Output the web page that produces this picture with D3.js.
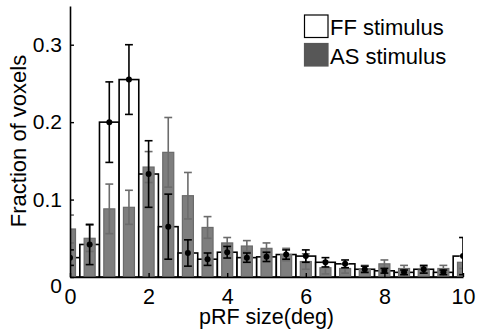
<!DOCTYPE html>
<html>
<head>
<meta charset="utf-8">
<script src="https://cdn.jsdelivr.net/npm/d3@7/dist/d3.min.js"></script>
<style>
  html, body { margin: 0; padding: 0; background: #fff; }
  svg { display: block; font-family: "Liberation Sans", Arial, Helvetica, sans-serif; }
</style>
</head>
<body>
<svg id="chart" width="478" height="329"></svg>
<script>
// pRF size bin centres (deg)
const binCenters = [0, 0.5, 1, 1.5, 2, 2.5, 3, 3.5, 4, 4.5, 5, 5.5, 6, 6.5, 7, 7.5, 8, 8.5, 9, 9.5, 10];

// FF stimulus: fraction of voxels per bin and error
const ffMean = [0.025, 0.042, 0.200, 0.255, 0.133, 0.065, 0.031, 0.023, 0.032, 0.025, 0.026,
                0.029, 0.027, 0.019, 0.017, 0.010, 0.008, 0.006, 0.010, 0.006, 0.027];
const ffErr  = [0.010, 0.026, 0.052, 0.045, 0.043, 0.042, 0.017, 0.008, 0.0075, 0.006, 0.006,
                0.006, 0.008, 0.006, 0.005, 0.004, 0.003, 0.003, 0.005, 0.003, 0.024];

// AS stimulus: fraction of voxels per bin and error
const asMean = [0.062, 0.050, 0.088, 0.090, 0.142, 0.161, 0.105, 0.064, 0.044, 0.040, 0.037,
                0.029, 0.020, 0.012, 0.011, 0.010, 0.017, 0.011, 0.009, 0.011, 0.019];
const asErr  = [0.018, 0.017, 0.032, 0.022, 0.020, 0.045, 0.030, 0.014, 0.007, 0.007, 0.007,
                0.008, 0.010, 0.008, 0.006, 0.005, 0.005, 0.004, 0.004, 0.004, 0.008];

const xTicks = [0, 2, 4, 6, 8, 10];
const yTicks = [0, 0.1, 0.2, 0.3];
const seriesNames = ["FF stimulus", "AS stimulus"];

const svg = d3.select("#chart");
const plotLeft = 70, plotRight = 463, plotBottom = 277, plotTop = 6;

const x = d3.scaleLinear().domain([0, 10]).range([plotLeft, plotRight]);
const y = d3.scaleLinear().domain([0, 0.35]).range([plotBottom, plotTop]);

const ffWidth = 0.5, asWidth = 0.28, capHalf = 0.1;

const rows = binCenters.map((c, i) => ({
  c, ff: ffMean[i], ffe: ffErr[i], as: asMean[i], ase: asErr[i]
}));

svg.append("defs").append("clipPath").attr("id", "plotClip")
  .append("rect")
  .attr("x", plotLeft).attr("y", 0)
  .attr("width", plotRight - plotLeft).attr("height", plotBottom + 1);

const plot = svg.append("g").attr("clip-path", "url(#plotClip)");

// FF bars: white with black outline
plot.selectAll("rect.ff").data(rows).join("rect")
  .attr("class", "ff")
  .attr("x", d => x(d.c - ffWidth / 2))
  .attr("width", d => x(d.c + ffWidth / 2) - x(d.c - ffWidth / 2))
  .attr("y", d => y(d.ff))
  .attr("height", d => y(0) - y(d.ff))
  .attr("fill", "#fff")
  .attr("stroke", "#000")
  .attr("stroke-width", 1.6);

// AS bars: narrower grey bars
plot.selectAll("rect.as").data(rows).join("rect")
  .attr("class", "as")
  .attr("x", d => x(d.c - asWidth / 2))
  .attr("width", d => x(d.c + asWidth / 2) - x(d.c - asWidth / 2))
  .attr("y", d => y(d.as))
  .attr("height", d => y(0) - y(d.as))
  .attr("fill", "#7e7e7e")
  .attr("stroke", "#6a6a6a")
  .attr("stroke-width", 1.2);

function errorBars(g, key, errKey, color, width) {
  const eb = g.append("g").attr("stroke", color).attr("stroke-width", width).attr("fill", "none");
  eb.selectAll("line.v").data(rows).join("line")
    .attr("class", "v")
    .attr("x1", d => x(d.c)).attr("x2", d => x(d.c))
    .attr("y1", d => y(d[key] - d[errKey])).attr("y2", d => y(d[key] + d[errKey]));
  eb.selectAll("line.t").data(rows).join("line")
    .attr("class", "t")
    .attr("x1", d => x(d.c - capHalf)).attr("x2", d => x(d.c + capHalf))
    .attr("y1", d => y(d[key] + d[errKey])).attr("y2", d => y(d[key] + d[errKey]));
  eb.selectAll("line.b").data(rows).join("line")
    .attr("class", "b")
    .attr("x1", d => x(d.c - capHalf)).attr("x2", d => x(d.c + capHalf))
    .attr("y1", d => y(d[key] - d[errKey])).attr("y2", d => y(d[key] - d[errKey]));
  return eb;
}

// AS error bars (grey), then FF error bars (black) with mean markers
errorBars(plot, "as", "ase", "#6c6c6c", 1.6);
errorBars(plot, "ff", "ffe", "#000", 1.6);
plot.selectAll("circle.ffdot").data(rows).join("circle")
  .attr("class", "ffdot")
  .attr("cx", d => x(d.c)).attr("cy", d => y(d.ff))
  .attr("r", 3).attr("fill", "#000");

// Axes with inward ticks
const xAxis = d3.axisBottom(x).tickValues(xTicks).tickSize(-4).tickSizeOuter(0).tickPadding(12)
  .tickFormat(d3.format("d"));
const yAxis = d3.axisLeft(y).tickValues(yTicks).tickSize(-4).tickSizeOuter(0).tickPadding(8)
  .tickFormat(d => d === 0 ? "0" : d3.format(".1f")(d));

const gx = svg.append("g").attr("transform", `translate(0,${plotBottom})`).call(xAxis);
const gy = svg.append("g").attr("transform", `translate(${plotLeft},0)`).call(yAxis);

[gx, gy].forEach(g => {
  g.select(".domain").attr("stroke", "#000").attr("stroke-width", 1.6);
  g.selectAll(".tick line").attr("stroke", "#000").attr("stroke-width", 1.4);
  g.selectAll(".tick text").attr("fill", "#000").attr("font-size", 21)
    .attr("font-family", "'Liberation Sans', Arial, sans-serif");
});
gx.selectAll(".tick text").attr("font-size", 21.5);
// keep the zero label clear of the x axis
gy.selectAll(".tick").filter(d => d === 0).select("text").attr("dy", "0.75em");

// Axis titles
svg.append("text")
  .attr("x", (plotLeft + plotRight) / 2).attr("y", 324)
  .attr("text-anchor", "middle").attr("font-size", 21.5).attr("fill", "#000")
  .text("pRF size(deg)");

svg.append("text")
  .attr("transform", `translate(26,${141}) rotate(-90)`)
  .attr("text-anchor", "middle").attr("font-size", 22).attr("fill", "#000")
  .text("Fraction of voxels");

// Legend
const legend = svg.append("g");
const legendItems = [
  { name: seriesNames[0], fill: "#fff", stroke: "#000" },
  { name: seriesNames[1], fill: "#575757", stroke: "#575757" }
];
legendItems.forEach((it, i) => {
  const yy = 15 + i * 28.5;
  legend.append("rect")
    .attr("x", 304.5).attr("y", yy).attr("width", 23.5).attr("height", 22.5)
    .attr("fill", it.fill).attr("stroke", it.stroke).attr("stroke-width", 1.2);
  legend.append("text")
    .attr("x", 330).attr("y", yy + 20)
    .attr("font-size", 22).attr("fill", "#000")
    .text(it.name);
});
</script>
</body>
</html>
